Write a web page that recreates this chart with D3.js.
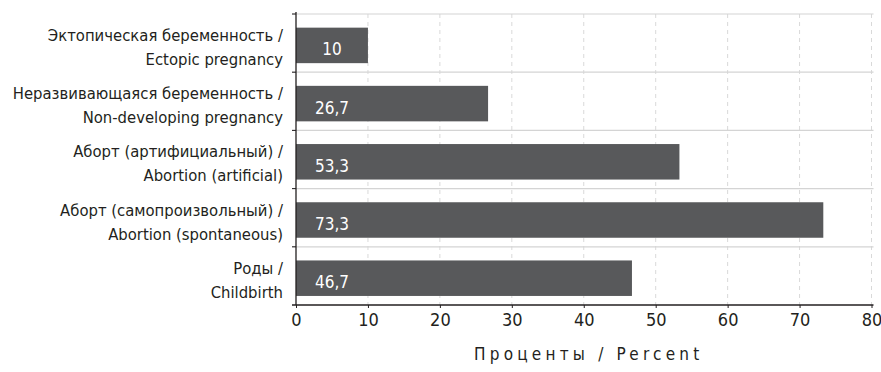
<!DOCTYPE html>
<html>
<head>
<meta charset="utf-8">
<script src="https://cdn.jsdelivr.net/npm/d3@7"></script>
<style>
  html, body { margin: 0; padding: 0; background: #fff; }
  svg { display: block; }
  text { font-family: "DejaVu Sans Condensed", "Liberation Sans Narrow", "Roboto", sans-serif; fill: #231f20; }
</style>
</head>
<body>
<svg id="chart" width="881" height="372"></svg>
<script>
// Outcome categories (Russian / English, two lines each)
const categoriesRu = [
  "Эктопическая беременность /",
  "Неразвивающаяся беременность /",
  "Аборт (артифициальный) /",
  "Аборт (самопроизвольный) /",
  "Роды /"
];
const categoriesEn = [
  "Ectopic pregnancy",
  "Non-developing pregnancy",
  "Abortion (artificial)",
  "Abortion (spontaneous)",
  "Childbirth"
];
// Share of each outcome, percent
const values = [10, 26.7, 53.3, 73.3, 46.7];
const xTicks = [0, 10, 20, 30, 40, 50, 60, 70, 80];
const xTitle = "Проценты / Percent";

const svg = d3.select("#chart");
const margin = { left: 296, right: 10, top: 14, bottom: 67 };
const W = 881, H = 372;

const x = d3.scaleLinear().domain([0, 80]).range([margin.left, 871.5]);
const y = d3.scaleBand()
  .domain(d3.range(values.length))
  .range([margin.top, H - margin.bottom])
  .paddingInner(0.39)
  .paddingOuter(0.195);
const barShift = 2.3;
const fmt = v => String(v).replace(".", ",");

// vertical dashed grid
svg.append("g")
  .selectAll("line")
  .data(xTicks.slice(1))
  .join("line")
  .attr("x1", d => x(d)).attr("x2", d => x(d))
  .attr("y1", margin.top).attr("y2", H - margin.bottom)
  .attr("stroke", "#d9d9d9")
  .attr("stroke-width", 1)
  .attr("stroke-dasharray", "4,4");

// horizontal grid on band boundaries
const bounds = d3.range(values.length).map(i => y(i) - y.step() * y.paddingInner() / 2);
svg.append("g")
  .selectAll("line")
  .data(bounds)
  .join("line")
  .attr("x1", x(0) - 4).attr("x2", x(80) + 2)
  .attr("y1", d => d).attr("y2", d => d)
  .attr("stroke", "#d4d4d4")
  .attr("stroke-width", 1.2);
svg.append("g")
  .selectAll("line")
  .data(bounds)
  .join("line")
  .attr("x1", x(0) - 4).attr("x2", x(0))
  .attr("y1", d => d).attr("y2", d => d)
  .attr("stroke", "#231f20")
  .attr("stroke-width", 1);

// bars
svg.append("g")
  .selectAll("rect")
  .data(values)
  .join("rect")
  .attr("x", x(0))
  .attr("y", (d, i) => y(i) + barShift)
  .attr("width", d => x(d) - x(0))
  .attr("height", y.bandwidth())
  .attr("fill", "#58595b");

// value labels
svg.append("g")
  .selectAll("text")
  .data(values)
  .join("text")
  .attr("x", x(5))
  .attr("y", (d, i) => y(i) + barShift + y.bandwidth() / 2 + 10)
  .attr("text-anchor", "middle")
  .style("fill", "#ffffff")
  .style("font-size", "17px")
  .text(d => fmt(d));

// category labels
const lab = svg.append("g")
  .selectAll("text")
  .data(values)
  .join("text")
  .attr("text-anchor", "end")
  .style("font-size", "16.5px");
lab.append("tspan")
  .attr("x", 283)
  .attr("y", (d, i) => y(i) + barShift + y.bandwidth() / 2 - 4.5)
  .text((d, i) => categoriesRu[i]);
lab.append("tspan")
  .attr("x", 283)
  .attr("y", (d, i) => y(i) + barShift + y.bandwidth() / 2 + 19.5)
  .text((d, i) => categoriesEn[i]);

// axes
const xAxis = svg.append("g")
  .attr("transform", `translate(0,${H - margin.bottom})`)
  .call(d3.axisBottom(x).tickValues(xTicks).tickSize(3).tickPadding(5).tickFormat(d3.format("d")));
xAxis.select(".domain").attr("stroke", "#231f20").attr("stroke-width", 1.3)
  .attr("d", `M${x(0) - 4},0H${x(80) + 2}`);
xAxis.selectAll(".tick line").attr("stroke", "#231f20");
xAxis.selectAll(".tick text")
  .style("font-size", "18px")
  .style("fill", "#231f20")
  .attr("font-family", null);

svg.append("line")
  .attr("x1", x(0)).attr("x2", x(0))
  .attr("y1", margin.top - 2).attr("y2", H - margin.bottom)
  .attr("stroke", "#231f20").attr("stroke-width", 1.3);

svg.append("text")
  .attr("x", (x(0) + x(80)) / 2 + 5)
  .attr("y", 360)
  .attr("text-anchor", "middle")
  .style("font-size", "17px")
  .style("letter-spacing", "4.2px")
  .text(xTitle);
</script>
</body>
</html>
